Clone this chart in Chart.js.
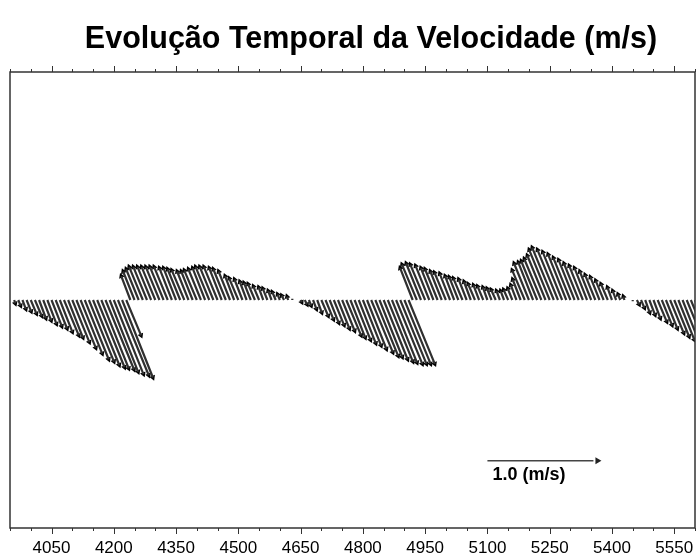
<!DOCTYPE html>
<html>
<head>
<meta charset="utf-8">
<script src="https://cdn.jsdelivr.net/npm/chart.js@4.4.0/dist/chart.umd.min.js"></script>
<style>
  html, body { margin: 0; padding: 0; background: #fff; }
</style>
</head>
<body>
<canvas id="velocidade" width="696" height="559"></canvas>
<script>
// serie temporal: inicio e passo de amostragem
const inicio = 3950;
const passo = 10;

// componentes da velocidade (m/s): u = leste, v = norte
const velU = [
  0.00, 0.01, 0.02, 0.03, 0.04, 0.05, 0.06, 0.06, 0.07, 0.08,
  0.09, 0.10, 0.11, 0.13, 0.13, 0.15, 0.17, 0.19, 0.21, 0.22,
  0.23, 0.24, 0.24, 0.25, 0.25, 0.26, 0.27, 0.27, 0.13, -0.08,
  -0.10, -0.11, -0.12, -0.12, -0.12, -0.12, -0.12, -0.12, -0.12, -0.11,
  -0.11, -0.11, -0.11, -0.10, -0.10, -0.11, -0.11, -0.11, -0.12, -0.12,
  -0.12, -0.11, -0.11, -0.10, -0.08, -0.08, -0.07, -0.06, -0.06, -0.06,
  -0.05, -0.04, -0.04, -0.03, -0.03, -0.02, -0.02, -0.01, 0.00, 0.00,
  0.01, 0.02, 0.02, 0.03, 0.04, 0.06, 0.07, 0.08, 0.09, 0.10,
  0.11, 0.13, 0.13, 0.14, 0.15, 0.16, 0.17, 0.19, 0.20, 0.20,
  0.21, 0.22, 0.22, 0.23, 0.23, 0.23, 0.23, -0.11, -0.13, -0.13,
  -0.13, -0.12, -0.11, -0.11, -0.10, -0.10, -0.09, -0.08, -0.08, -0.08,
  -0.07, -0.06, -0.06, -0.05, -0.05, -0.04, -0.04, -0.04, -0.03, -0.03,
  -0.04, -0.04, -0.05, -0.07, -0.11, -0.13, -0.13, -0.14, -0.15, -0.16,
  -0.18, -0.19, -0.18, -0.17, -0.16, -0.15, -0.14, -0.13, -0.12, -0.11,
  -0.10, -0.09, -0.08, -0.07, -0.06, -0.04, -0.03, -0.02, -0.01, 0.00,
  0.00, 0.02, 0.03, 0.04, 0.05, 0.06, 0.08, 0.09, 0.10, 0.12,
  0.13, 0.14, 0.15, 0.17, 0.18, 0.19
];
const velV = [
  0.00, -0.03, -0.05, -0.08, -0.10, -0.12, -0.14, -0.16, -0.18, -0.21,
  -0.23, -0.25, -0.28, -0.31, -0.33, -0.37, -0.42, -0.47, -0.52, -0.54,
  -0.57, -0.59, -0.60, -0.61, -0.63, -0.65, -0.66, -0.68, -0.31, 0.21,
  0.25, 0.27, 0.29, 0.29, 0.29, 0.29, 0.29, 0.29, 0.29, 0.28,
  0.28, 0.27, 0.26, 0.25, 0.25, 0.26, 0.27, 0.28, 0.29, 0.29,
  0.29, 0.28, 0.27, 0.25, 0.21, 0.19, 0.18, 0.16, 0.15, 0.14,
  0.12, 0.11, 0.10, 0.08, 0.07, 0.05, 0.04, 0.03, 0.01, 0.00,
  -0.02, -0.04, -0.05, -0.08, -0.11, -0.14, -0.17, -0.20, -0.22, -0.25,
  -0.27, -0.31, -0.33, -0.35, -0.38, -0.40, -0.43, -0.46, -0.49, -0.50,
  -0.52, -0.54, -0.55, -0.56, -0.56, -0.56, -0.56, 0.28, 0.31, 0.32,
  0.31, 0.30, 0.28, 0.27, 0.25, 0.24, 0.23, 0.21, 0.20, 0.19,
  0.18, 0.16, 0.14, 0.13, 0.12, 0.11, 0.10, 0.09, 0.08, 0.08,
  0.09, 0.10, 0.13, 0.18, 0.26, 0.32, 0.33, 0.34, 0.36, 0.39,
  0.44, 0.46, 0.44, 0.42, 0.40, 0.37, 0.35, 0.32, 0.30, 0.28,
  0.25, 0.22, 0.20, 0.17, 0.14, 0.11, 0.08, 0.05, 0.03, 0.00,
  -0.01, -0.04, -0.07, -0.11, -0.13, -0.16, -0.19, -0.22, -0.25, -0.29,
  -0.32, -0.35, -0.38, -0.41, -0.44, -0.47
];
const tempo = velU.map((_, i) => inicio + i * passo);

// eixo x
const valoresX = [4050, 4200, 4350, 4500, 4650, 4800, 4950, 5100, 5250, 5400, 5550];
const rotulosX = ['4050', '4200', '4350', '4500', '4650', '4800', '4950', '5100', '5250', '5400', '5550'];

// vetor de referencia
const escalaRef = 1.0;
const posRef = [5100, -1.41];

const titulo = 'Evolução Temporal da Velocidade (m/s)';
const rotuloRef = '1.0 (m/s)';

const moldura = {
  id: 'moldura',
  afterDraw(chart) {
    const c = chart.ctx, a = chart.chartArea, xs = chart.scales.x, ys = chart.scales.y;
    c.save();
    c.fillStyle = '#000';
    c.textAlign = 'center';
    c.textBaseline = 'alphabetic';
    c.font = 'bold 30.5px "Liberation Sans", Arial, sans-serif';
    c.fillText(titulo, 371, 48);

    c.strokeStyle = '#333';
    c.lineWidth = 1.5;
    c.strokeRect(a.left, a.top, a.right - a.left, a.bottom - a.top);

    c.lineWidth = 1;
    for (let t = 3950; t <= 5600; t += 50) {
      const px = Math.round(xs.getPixelForValue(t)) + 0.5;
      const tam = valoresX.includes(t) ? 6 : 3;
      c.beginPath();
      c.moveTo(px, a.bottom); c.lineTo(px, a.bottom + tam);
      c.moveTo(px, a.top); c.lineTo(px, a.top - tam);
      c.stroke();
    }

    c.font = 'bold 18px "Liberation Sans", Arial, sans-serif';
    c.textAlign = 'left';
    c.textBaseline = 'middle';
    c.fillText(rotuloRef, xs.getPixelForValue(posRef[0]) + 5, ys.getPixelForValue(posRef[1]) + 14);
    c.restore();
  }
};

const ctx = document.getElementById('velocidade').getContext('2d');

const grafico = new Chart(ctx, {
  type: 'scatter',
  data: {
    datasets: [
      {
        label: 'varetas',
        data: [],
        showLine: true,
        spanGaps: false,
        borderColor: '#303030',
        borderWidth: 2.2,
        pointRadius: 0
      },
      {
        label: 'pontas',
        data: [],
        pointStyle: 'triangle',
        pointRadius: c => (c.raw && c.raw.r) || 0,
        pointRotation: c => (c.raw ? c.raw.rot : 0),
        backgroundColor: '#000',
        borderWidth: 0
      },
      {
        label: 'referencia',
        data: [],
        showLine: true,
        borderColor: '#444',
        borderWidth: 1.5,
        pointRadius: 0
      },
      {
        label: 'referencia ponta',
        data: [],
        pointStyle: 'triangle',
        pointRadius: 4,
        pointRotation: 90,
        backgroundColor: '#222',
        borderWidth: 0
      }
    ]
  },
  options: {
    responsive: false,
    animation: false,
    layout: { autoPadding: false, padding: { left: 10, right: 1, top: 72, bottom: 0 } },
    plugins: { legend: { display: false }, tooltip: { enabled: false } },
    scales: {
      x: {
        type: 'linear',
        min: 3950,
        max: 5600,
        grid: { display: false, drawTicks: false },
        border: { display: false },
        afterBuildTicks: s => { s.ticks = valoresX.map(v => ({ value: v })); },
        afterFit: s => { s.height = 31; s.paddingLeft = 0; s.paddingRight = 0; },
        ticks: {
          padding: 10,
          autoSkip: false,
          maxRotation: 0,
          color: '#000',
          font: { family: 'Liberation Sans', size: 17 },
          callback: v => rotulosX[valoresX.indexOf(v)]
        }
      },
      y: { type: 'linear', min: -2, max: 2, display: false }
    }
  },
  plugins: [moldura]
});

// converte m/s em unidades de tempo para que u e v tenham a mesma escala na tela
const xs = grafico.scales.x, ys = grafico.scales.y;
const pxTempo = (xs.getPixelForValue(5600) - xs.getPixelForValue(3950)) / 1650;
const pxVel = ys.getPixelForValue(0) - ys.getPixelForValue(1);
const kx = pxVel / pxTempo;

const varetas = [], pontas = [];
tempo.forEach((t, i) => {
  const u = velU[i], v = velV[i];
  const ponta = { x: t + u * kx, y: v };
  varetas.push({ x: t, y: 0 }, ponta, { x: t, y: null });
  const mod = Math.sqrt(u * u + v * v);
  pontas.push({ x: ponta.x, y: ponta.y, rot: Math.atan2(u, v) * 180 / Math.PI, r: mod > 0.02 ? 3.4 : 0 });
});

const fimRef = posRef[0] + escalaRef * kx;
grafico.data.datasets[0].data = varetas;
grafico.data.datasets[1].data = pontas;
grafico.data.datasets[2].data = [{ x: posRef[0], y: posRef[1] }, { x: fimRef - 8 / pxTempo, y: posRef[1] }];
grafico.data.datasets[3].data = [{ x: fimRef - 4 / pxTempo, y: posRef[1] }];
grafico.update('none');
</script>
</body>
</html>
